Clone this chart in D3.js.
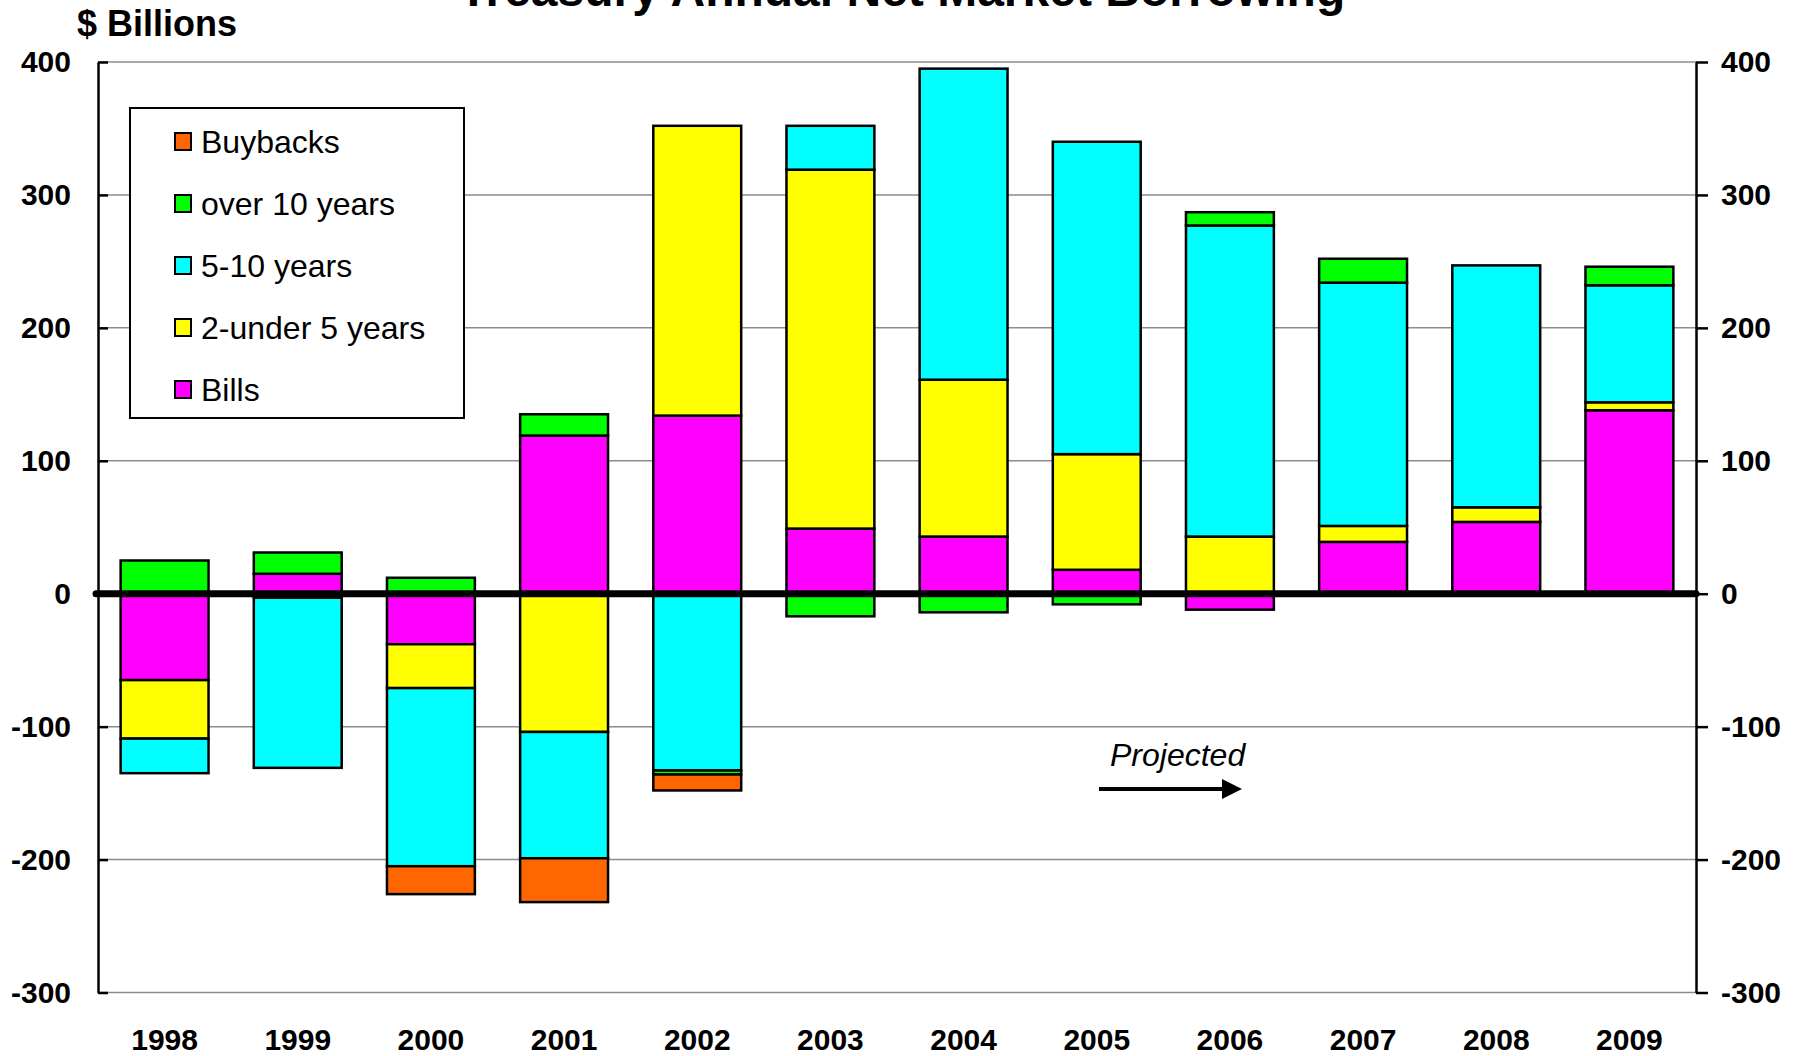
<!DOCTYPE html>
<html>
<head>
<meta charset="utf-8">
<script src="https://cdnjs.cloudflare.com/ajax/libs/d3/7.8.5/d3.min.js"></script>
<style>
  body { margin: 0; background: #fff; }
  #chart-container { width: 1802px; height: 1056px; }
  text { font-family: "Liberation Sans", Arial, sans-serif; fill: #000; }
  .tick-label { font-size: 30px; font-weight: bold; }
  .legend-text { font-size: 32px; }
</style>
</head>
<body>
<div id="chart-container"></div>
<script>
// Data ($ billions)
const years = ["1998", "1999", "2000", "2001", "2002", "2003", "2004", "2005", "2006", "2007", "2008", "2009"];
const bills      = [-65, 15, -38, 119, 134, 49, 43, 18, -12, 39, 54, 138];
const twoToFive  = [-44, -3, -33, -104, 218, 270, 118, 87, 43, 12, 11, 6];
const fiveToTen  = [-26, -128, -134, -95, -133, 33, 234, 235, 234, 183, 182, 88];
const overTen    = [25, 16, 12, 16, -3, -17, -14, -8, 10, 18, 0, 14];
const buybacks   = [0, 0, -21, -33, -12, 0, 0, 0, 0, 0, 0, 0];
const yTicks = [-300, -200, -100, 0, 100, 200, 300, 400];

// stacking order from zero outwards
const seriesKeys = ["Bills", "2-under 5 years", "5-10 years", "over 10 years", "Buybacks"];
const seriesValues = [bills, twoToFive, fiveToTen, overTen, buybacks];
const colors = ["#ff00ff", "#ffff00", "#00ffff", "#00ff00", "#ff6600"];
// legend runs top to bottom the other way round
const legendKeys = ["Buybacks", "over 10 years", "5-10 years", "2-under 5 years", "Bills"];

const width = 1802;
const height = 1056;

const table = years.map((yr, i) => {
  const row = { year: yr };
  seriesKeys.forEach((k, j) => { row[k] = seriesValues[j][i]; });
  return row;
});

const svg = d3.select("#chart-container")
  .append("svg")
  .attr("width", width)
  .attr("height", height);

const plotLeft = 98, plotRight = 1696, plotTop = 62, plotBottom = 992.5;

const xScale = d3.scaleBand()
  .domain(years)
  .range([plotLeft, plotRight])
  .paddingInner(0.34)
  .paddingOuter(0.17);

const yScale = d3.scaleLinear()
  .domain([-300, 400])
  .range([plotBottom, plotTop]);

const colorScale = d3.scaleOrdinal().domain(seriesKeys).range(colors);

// gridlines
svg.append("g")
  .selectAll("line")
  .data(yTicks.filter(d => d !== 0))
  .enter()
  .append("line")
  .attr("x1", plotLeft)
  .attr("x2", plotRight)
  .attr("y1", d => yScale(d))
  .attr("y2", d => yScale(d))
  .attr("stroke", "#8c8c8c")
  .attr("stroke-width", 1.5);

// stacked bars
const stacked = d3.stack()
  .keys(seriesKeys)
  .offset(d3.stackOffsetDiverging)(table);

svg.append("g")
  .selectAll("g")
  .data(stacked)
  .enter()
  .append("g")
  .attr("fill", d => colorScale(d.key))
  .selectAll("rect")
  .data(d => d.filter(p => p[1] !== p[0]))
  .enter()
  .append("rect")
  .attr("x", d => xScale(d.data.year))
  .attr("width", xScale.bandwidth())
  .attr("y", d => yScale(Math.max(d[0], d[1])))
  .attr("height", d => Math.abs(yScale(d[0]) - yScale(d[1])))
  .attr("stroke", "#000")
  .attr("stroke-width", 2.5);

// zero line
svg.append("line")
  .attr("x1", plotLeft - 2)
  .attr("x2", plotRight)
  .attr("y1", yScale(0))
  .attr("y2", yScale(0))
  .attr("stroke", "#000")
  .attr("stroke-width", 7)
  .attr("stroke-linecap", "round");

// plain hyphen for negatives, like the original
const fmt = d => String(d);

// left axis, ticks point inward
const yAxisLeft = svg.append("g")
  .attr("transform", `translate(${plotLeft},0)`)
  .call(d3.axisLeft(yScale).tickValues(yTicks).tickFormat(fmt).tickSize(-10).tickSizeOuter(0).tickPadding(27));

// right axis, ticks point outward
const yAxisRight = svg.append("g")
  .attr("transform", `translate(${plotRight},0)`)
  .call(d3.axisRight(yScale).tickValues(yTicks).tickFormat(fmt).tickSize(12).tickSizeOuter(0).tickPadding(13));

[yAxisLeft, yAxisRight].forEach(ax => {
  ax.select(".domain").attr("stroke", "#000").attr("stroke-width", 2.5);
  ax.selectAll(".tick line").attr("stroke", "#000").attr("stroke-width", 2.5);
  ax.selectAll(".tick text")
    .attr("class", "tick-label")
    .attr("fill", "#000")
    .style("font-family", "'Liberation Sans', Arial, sans-serif");
});

// year labels
const xAxis = svg.append("g")
  .attr("transform", `translate(0,${plotBottom})`)
  .call(d3.axisBottom(xScale).tickSize(0).tickPadding(36));
xAxis.select(".domain").remove();
xAxis.selectAll(".tick text")
  .attr("class", "tick-label")
  .attr("fill", "#000")
  .style("font-family", "'Liberation Sans', Arial, sans-serif");

// title (runs off the top edge in the original)
svg.append("text")
  .attr("x", 902)
  .attr("y", 6)
  .attr("text-anchor", "middle")
  .style("font-size", "48px")
  .style("font-weight", "bold")
  .text("Treasury Annual Net Market Borrowing");

svg.append("text")
  .attr("x", 77)
  .attr("y", 36)
  .style("font-size", "36px")
  .style("font-weight", "bold")
  .text("$ Billions");

// legend
const legend = svg.append("g");
legend.append("rect")
  .attr("x", 130)
  .attr("y", 108)
  .attr("width", 334)
  .attr("height", 310)
  .attr("fill", "#fff")
  .attr("stroke", "#000")
  .attr("stroke-width", 2);

const legendItem = legend.selectAll(".legend-item")
  .data(legendKeys)
  .enter()
  .append("g")
  .attr("class", "legend-item")
  .attr("transform", (d, i) => `translate(0,${141.5 + i * 62})`);

legendItem.append("rect")
  .attr("x", 175)
  .attr("y", -8.5)
  .attr("width", 16)
  .attr("height", 17)
  .attr("fill", d => colorScale(d))
  .attr("stroke", "#000")
  .attr("stroke-width", 2);

legendItem.append("text")
  .attr("class", "legend-text")
  .attr("x", 201)
  .attr("dy", "0.36em")
  .text(d => d);

// Projected note with arrow
svg.append("text")
  .attr("x", 1110)
  .attr("y", 766)
  .style("font-size", "32px")
  .style("font-style", "italic")
  .text("Projected");

svg.append("line")
  .attr("x1", 1099)
  .attr("x2", 1226)
  .attr("y1", 789)
  .attr("y2", 789)
  .attr("stroke", "#000")
  .attr("stroke-width", 4);

svg.append("path")
  .attr("d", "M1222,779 L1242,789 L1222,799 Z")
  .attr("fill", "#000");
</script>
</body>
</html>
